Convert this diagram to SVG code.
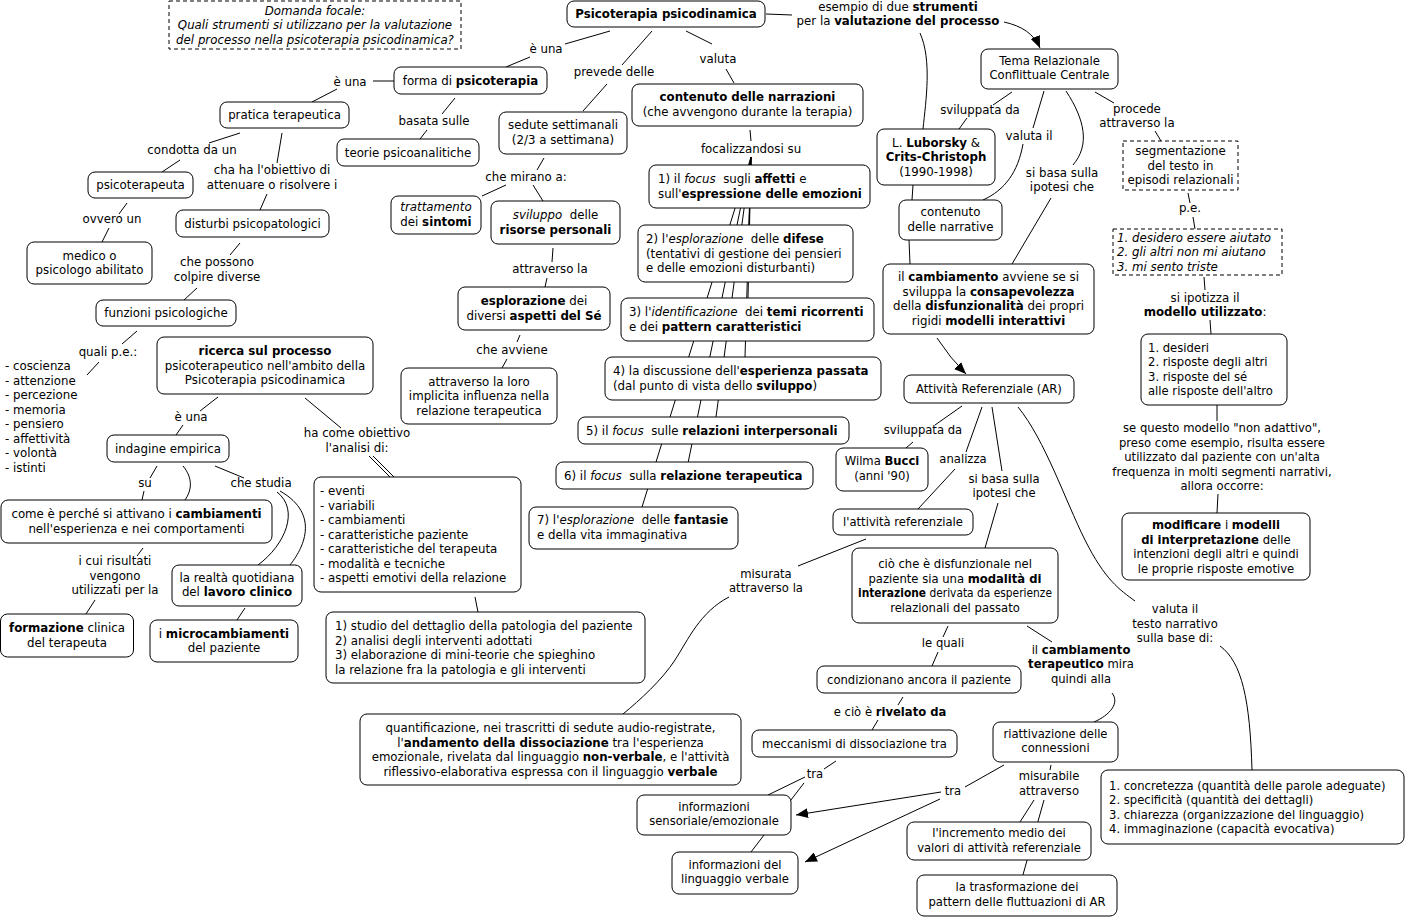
<svg xmlns="http://www.w3.org/2000/svg" width="1410" height="924" viewBox="0 0 1410 924">
<style>
text{font-family:"DejaVu Sans",Verdana,sans-serif;font-size:11.8px;fill:#000}
.t{font-size:11.6px}
.c{text-anchor:middle}
.b{font-weight:bold}
.i{font-style:italic}
.p{white-space:pre}
.n{fill:#fff;stroke:#000;stroke-width:1}
.d{fill:#fff;stroke:#000;stroke-width:1;stroke-dasharray:4,3}
.l{fill:none;stroke:#000;stroke-width:1}
</style>
<defs>
<marker id="ah" markerWidth="12" markerHeight="10" refX="12" refY="5" orient="auto" markerUnits="userSpaceOnUse"><path d="M0,0 L12,5 L0,10 z" fill="#000"/></marker>
</defs>
<rect width="1410" height="924" fill="#fff"/>

<g id="connectors">
<path class="l" d="M610 31 L565 44 M530 57 L506 67 M652 31 L622 65 M607 84 L583 111 M686 31 L712 44 M726 69 L734 83 M766 14 L792 15"/>
<path class="l" d="M1004 22 C1022 26 1034 34 1040 48" marker-end="url(#ah)"/>
<path class="l" d="M920 33 C932 60 926 100 923 129"/>
<path class="l" d="M312 102 L337 89 M373 81 L394 81 M455 98 L442 114 M427 130 L420 139 M240 133 L209 143 M180 160 L162 172 M282 133 L277 163 M267 194 L260 210 M127 203 L119 214 M109 228 L102 242 M240 243 L230 255 M197 288 L184 300 M137 331 L122 344 M99 362 L87 375"/>
<path class="l" d="M218 397 L200 411 M183 425 L176 435 M305 398 L341 428 M369 456 L390 477 M373 456 L394 477 M157 466 L150 478 M144 491 L142 500 M215 466 L244 478 M143 548 L137 556 M95 600 L86 614 M245 608 L237 620 M475 597 L478 612"/>
<path class="l" d="M183 466 C193 478 192 490 185 500"/>
<path class="l" d="M277 492 C300 510 285 545 258 565"/>
<path class="l" d="M280 491 C322 515 302 550 290 565"/>
<path class="l" d="M544 158 L537 170 M506 185 L482 196 M533 185 L543 201 M553 248 L552 262 M547 278 L545 287 M520 335 L517 342 M507 359 L502 368 M750 130 L751 141"/>
<path class="l" d="M751 157 L751 165 M751 157 L749 225 M751 157 L748 298 M751 157 L745 357 M751 157 L716 417 M751 157 L688 463 M751 157 L642 507"/>
<path class="l" d="M1012 92 L993 105 M967 118 L959 129 M1044 91 L1033 128 M1095 92 L1114 103 M1155 131 L1161 141 M913 185 L912 200 M909 240 L910 264 M1051 198 L1012 264 M1188 193 L1190 203 M1193 217 L1195 229 M1204 277 L1205 290 M1210 320 L1211 334 M1217 405 L1217 421 M1218 494 L1217 513"/>
<path class="l" d="M1023 144 C1018 172 1005 190 983 200"/>
<path class="l" d="M1066 91 C1085 120 1090 145 1073 165"/>
<path class="l" d="M937 338 Q950 358 966 374" marker-end="url(#ah)"/>
<path class="l" d="M962 406 L935 425 M913 442 L906 448 M982 407 L966 452 M955 469 L918 509 M992 407 L1002 471 M998 503 L985 548 M866 539 L798 566"/>
<path class="l" d="M1018 407 C1045 440 1065 500 1085 540 S1120 590 1135 601"/>
<path class="l" d="M1220 646 C1242 662 1250 700 1252 770"/>
<path class="l" d="M729 597 C700 612 688 640 675 660 S640 700 623 714"/>
<path class="l" d="M948 626 L943 637 M938 652 L932 666 M1027 626 L1052 642 M903 697 L898 705 M878 720 L872 730 M836 761 L824 769 M805 777 L768 795 M804 783 L751 852 M1004 765 L965 787 M1051 765 L1050 770 M1034 800 L1020 822 M1044 800 L1017 896"/>
<path class="l" d="M1112 693 C1120 703 1110 715 1094 722"/>
<path class="l" d="M941 792 L796 815" marker-end="url(#ah)"/>
<path class="l" d="M940 799 L805 862" marker-end="url(#ah)"/>
</g>

<g id="labels">
<text class="c" x="546" y="53">è una</text>
<text class="c" x="614" y="76">prevede delle</text>
<text class="c" x="718" y="63">valuta</text>
<text class="c" x="898" y="11">esempio di due <tspan class="b">strumenti</tspan></text>
<text class="c" x="898" y="25">per la <tspan class="b">valutazione del processo</tspan></text>
<text class="c" x="350" y="86">è una</text>
<text class="c" x="434" y="125">basata sulle</text>
<text class="c" x="192" y="154">condotta da un</text>
<text class="c" x="272" y="174">cha ha l'obiettivo di</text>
<text class="c" x="272" y="189">attenuare o risolvere i</text>
<text class="c" x="112" y="223">ovvero un</text>
<text class="c" x="217" y="266">che possono</text>
<text class="c" x="217" y="281">colpire diverse</text>
<text class="c" x="108" y="356">quali p.e.:</text>
<text x="5" y="370">- coscienza</text>
<text x="5" y="385">- attenzione</text>
<text x="5" y="399">- percezione</text>
<text x="5" y="414">- memoria</text>
<text x="5" y="428">- pensiero</text>
<text x="5" y="443">- affettività</text>
<text x="5" y="457">- volontà</text>
<text x="5" y="472">- istinti</text>
<text class="c" x="191" y="421">è una</text>
<text class="c" x="357" y="437">ha come obiettivo</text>
<text class="c" x="357" y="452">l'analisi di:</text>
<text class="c" x="145" y="487">su</text>
<text class="c" x="261" y="487">che studia</text>
<text class="c" x="115" y="565">i cui risultati</text>
<text class="c" x="115" y="580">vengono</text>
<text class="c" x="115" y="594">utilizzati per la</text>
<text class="c" x="526" y="181">che mirano a:</text>
<text class="c" x="550" y="273">attraverso la</text>
<text class="c" x="512" y="354">che avviene</text>
<text class="c" x="751" y="153">focalizzandosi su</text>
<text class="c" x="980" y="114">sviluppata da</text>
<text class="c" x="1029" y="140">valuta il</text>
<text class="c" x="1062" y="177">si basa sulla</text>
<text class="c" x="1062" y="191">ipotesi che</text>
<text class="c" x="1137" y="113">procede</text>
<text class="c" x="1137" y="127">attraverso la</text>
<text class="c" x="1190" y="212">p.e.</text>
<text class="c" x="1205" y="302">si ipotizza il</text>
<text class="c" x="1205" y="316"><tspan class="b">modello utilizzato</tspan>:</text>
<text class="c t" x="1222" y="432">se questo modello "non adattivo",</text>
<text class="c t" x="1222" y="447">preso come esempio, risulta essere</text>
<text class="c t" x="1222" y="461">utilizzato dal paziente con un'alta</text>
<text class="c t" x="1222" y="476">frequenza in molti segmenti narrativi,</text>
<text class="c t" x="1222" y="490">allora occorre:</text>
<text class="c t" x="923" y="434">sviluppata da</text>
<text class="c t" x="963" y="463">analizza</text>
<text class="c t" x="1004" y="483">si basa sulla</text>
<text class="c t" x="1004" y="497">ipotesi che</text>
<text class="c t" x="766" y="578">misurata</text>
<text class="c t" x="766" y="592">attraverso la</text>
<text class="c t" x="1175" y="613">valuta il</text>
<text class="c t" x="1175" y="628">testo narrativo</text>
<text class="c t" x="1175" y="642">sulla base di:</text>
<text class="c t" x="943" y="647">le quali</text>
<text class="c t" x="1081" y="654">il <tspan class="b">cambiamento</tspan></text>
<text class="c t" x="1081" y="668"><tspan class="b">terapeutico</tspan> mira</text>
<text class="c t" x="1081" y="683">quindi alla</text>
<text class="c t" x="890" y="716">e ciò è <tspan class="b">rivelato da</tspan></text>
<text class="c t" x="815" y="778">tra</text>
<text class="c t" x="953" y="795">tra</text>
<text class="c t" x="1049" y="780">misurabile</text>
<text class="c t" x="1049" y="795">attraverso</text>
</g>

<g id="n-domanda"><rect class="d" x="169" y="1" width="292" height="48"/>
<text class="c i" x="315" y="15">Domanda focale:</text>
<text class="c i" x="315" y="29">Quali strumenti si utilizzano per la valutazione</text>
<text class="c i" x="315" y="44">del processo nella psicoterapia psicodinamica?</text></g>

<g id="n-psicodinamica"><rect class="n" x="567" y="1" width="198" height="26" rx="7"/>
<text class="c b" x="666" y="18">Psicoterapia psicodinamica</text></g>

<g id="n-tema"><rect class="n" x="981" y="49" width="137" height="40" rx="7"/>
<text class="c t" x="1049.5" y="65">Tema Relazionale</text>
<text class="c t" x="1049.5" y="79">Conflittuale Centrale</text></g>

<g id="n-forma"><rect class="n" x="394" y="67" width="153" height="27" rx="7"/>
<text class="c" x="470.5" y="85">forma di <tspan class="b">psicoterapia</tspan></text></g>

<g id="n-pratica"><rect class="n" x="220" y="102" width="129" height="26" rx="7"/>
<text class="c" x="284.5" y="119">pratica terapeutica</text></g>

<g id="n-contenuto"><rect class="n" x="632" y="84" width="231" height="42" rx="7"/>
<text class="c b" x="747.5" y="101">contenuto delle narrazioni</text>
<text class="c" x="747.5" y="116">(che avvengono durante la terapia)</text></g>

<g id="n-sedute"><rect class="n" x="499" y="112" width="128" height="42" rx="7"/>
<text class="c" x="563" y="129">sedute settimanali</text>
<text class="c" x="563" y="144">(2/3 a settimana)</text></g>

<g id="n-teorie"><rect class="n" x="337" y="139" width="142" height="27" rx="7"/>
<text class="c" x="408" y="157">teorie psicoanalitiche</text></g>

<g id="n-luborsky"><rect class="n" x="877" y="129" width="118" height="56" rx="7"/>
<text class="c" x="936" y="147">L. <tspan class="b">Luborsky</tspan> &amp;</text>
<text class="c b" x="936" y="161">Crits-Christoph</text>
<text class="c" x="936" y="176">(1990-1998)</text></g>

<g id="n-segmentazione"><rect class="d" x="1123" y="141" width="115" height="49"/>
<text class="c" x="1180.5" y="155">segmentazione</text>
<text class="c" x="1180.5" y="170">del testo in</text>
<text class="c" x="1180.5" y="184">episodi relazionali</text></g>

<g id="n-psicoterapeuta"><rect class="n" x="88" y="172" width="105" height="26" rx="7"/>
<text class="c" x="140.5" y="189">psicoterapeuta</text></g>

<g id="n-f1"><rect class="n" x="649" y="165" width="221" height="43" rx="7"/>
<text class="p" x="658" y="183">1) il <tspan class="i">focus</tspan>  sugli <tspan class="b">affetti</tspan> e</text>
<text x="658" y="198">sull'<tspan class="b">espressione delle emozioni</tspan></text></g>

<g id="n-trattamento"><rect class="n" x="391" y="196" width="90" height="38" rx="7"/>
<text class="c i" x="436" y="211">trattamento</text>
<text class="c" x="436" y="226">dei <tspan class="b">sintomi</tspan></text></g>

<g id="n-narrative"><rect class="n" x="899" y="200" width="103" height="40" rx="7"/>
<text class="c" x="950.5" y="216">contenuto</text>
<text class="c" x="950.5" y="231">delle narrative</text></g>

<g id="n-sviluppo"><rect class="n" x="491" y="201" width="129" height="43" rx="7"/>
<text class="c p" x="555.5" y="219"><tspan class="i">sviluppo</tspan>  delle</text>
<text class="c b" x="555.5" y="234">risorse personali</text></g>

<g id="n-disturbi"><rect class="n" x="176" y="210" width="153" height="27" rx="7"/>
<text class="c" x="252.5" y="228">disturbi psicopatologici</text></g>

<g id="n-desidero"><rect class="d" x="1113" y="229" width="169" height="46"/>
<text class="i" x="1117" y="242">1. desidero essere aiutato</text>
<text class="i" x="1117" y="256">2. gli altri non mi aiutano</text>
<text class="i" x="1117" y="271">3. mi sento triste</text></g>

<g id="n-f2"><rect class="n" x="638" y="225" width="215" height="57" rx="7"/>
<text class="p" x="646" y="243">2) l'<tspan class="i">esplorazione</tspan>  delle <tspan class="b">difese</tspan></text>
<text x="646" y="258">(tentativi di gestione dei pensieri</text>
<text x="646" y="272">e delle emozioni disturbanti)</text></g>

<g id="n-medico"><rect class="n" x="27" y="242" width="125" height="42" rx="7"/>
<text class="c" x="89.5" y="260">medico o</text>
<text class="c" x="89.5" y="274">psicologo abilitato</text></g>

<g id="n-cambiamento"><rect class="n" x="883" y="264" width="211" height="70" rx="7"/>
<text class="c" x="988.5" y="281">il <tspan class="b">cambiamento</tspan> avviene se si</text>
<text class="c" x="988.5" y="296">sviluppa la <tspan class="b">consapevolezza</tspan></text>
<text class="c" x="988.5" y="310">della <tspan class="b">disfunzionalità</tspan> dei propri</text>
<text class="c" x="988.5" y="325">rigidi <tspan class="b">modelli interattivi</tspan></text></g>

<g id="n-esplorazione"><rect class="n" x="458" y="287" width="152" height="43" rx="7"/>
<text class="c" x="534" y="305"><tspan class="b">esplorazione</tspan> dei</text>
<text class="c" x="534" y="320">diversi <tspan class="b">aspetti del Sé</tspan></text></g>

<g id="n-f3"><rect class="n" x="621" y="298" width="253" height="43" rx="7"/>
<text class="p" x="629" y="316">3) l'<tspan class="i">identificazione</tspan>  dei <tspan class="b">temi ricorrenti</tspan></text>
<text x="629" y="331">e dei <tspan class="b">pattern caratteristici</tspan></text></g>

<g id="n-funzioni"><rect class="n" x="96" y="300" width="140" height="26" rx="7"/>
<text class="c" x="166" y="317">funzioni psicologiche</text></g>

<g id="n-desideri"><rect class="n" x="1141" y="334" width="146" height="71" rx="7"/>
<text class="t" x="1148" y="352">1. desideri</text>
<text class="t" x="1148" y="366">2. risposte degli altri</text>
<text class="t" x="1148" y="381">3. risposte del sé</text>
<text class="t" x="1148" y="395">alle risposte dell'altro</text></g>

<g id="n-ricerca"><rect class="n" x="157" y="337" width="216" height="57" rx="7"/>
<text class="c b" x="265" y="355">ricerca sul processo</text>
<text class="c" x="265" y="370">psicoterapeutico nell'ambito della</text>
<text class="c" x="265" y="384">Psicoterapia psicodinamica</text></g>

<g id="n-f4"><rect class="n" x="605" y="357" width="276" height="43" rx="7"/>
<text x="613" y="375">4) la discussione dell'<tspan class="b">esperienza passata</tspan></text>
<text x="613" y="390">(dal punto di vista dello <tspan class="b">sviluppo</tspan>)</text></g>

<g id="n-influenza"><rect class="n" x="401" y="368" width="156" height="56" rx="7"/>
<text class="c" x="479" y="386">attraverso la loro</text>
<text class="c" x="479" y="400">implicita influenza nella</text>
<text class="c" x="479" y="415">relazione terapeutica</text></g>

<g id="n-ar"><rect class="n" x="904" y="375" width="170" height="28" rx="7"/>
<text class="c t" x="989" y="393">Attività Referenziale (AR)</text></g>

<g id="n-f5"><rect class="n" x="578" y="417" width="271" height="27" rx="7"/>
<text class="p" x="586" y="435">5) il <tspan class="i">focus</tspan>  sulle <tspan class="b">relazioni interpersonali</tspan></text></g>

<g id="n-indagine"><rect class="n" x="107" y="435" width="122" height="27" rx="7"/>
<text class="c" x="168" y="453">indagine empirica</text></g>

<g id="n-wilma"><rect class="n" x="836" y="448" width="92" height="43" rx="7"/>
<text class="c t" x="882" y="465">Wilma <tspan class="b">Bucci</tspan></text>
<text class="c t" x="882" y="480">(anni '90)</text></g>

<g id="n-f6"><rect class="n" x="556" y="462" width="257" height="27" rx="7"/>
<text class="p" x="564" y="480">6) il <tspan class="i">focus</tspan>  sulla <tspan class="b">relazione terapeutica</tspan></text></g>

<g id="n-eventi"><rect class="n" x="314" y="477" width="207" height="115" rx="7"/>
<text x="320" y="495">- eventi</text>
<text x="320" y="510">- variabili</text>
<text x="320" y="524">- cambiamenti</text>
<text x="320" y="539">- caratteristiche paziente</text>
<text x="320" y="553">- caratteristiche del terapeuta</text>
<text x="320" y="568">- modalità e tecniche</text>
<text x="320" y="582">- aspetti emotivi della relazione</text></g>

<g id="n-come"><rect class="n" x="1" y="500" width="271" height="43" rx="7"/>
<text class="c" x="136.5" y="518">come è perché si attivano i <tspan class="b">cambiamenti</tspan></text>
<text class="c" x="136.5" y="533">nell'esperienza e nei comportamenti</text></g>

<g id="n-attivita"><rect class="n" x="833" y="509" width="140" height="26" rx="7"/>
<text class="c t" x="903" y="526">l'attività referenziale</text></g>

<g id="n-modificare"><rect class="n" x="1122" y="513" width="188" height="67" rx="7"/>
<text class="c t" x="1216" y="529"><tspan class="b">modificare</tspan> i <tspan class="b">modelli</tspan></text>
<text class="c t" x="1216" y="544"><tspan class="b">di interpretazione</tspan> delle</text>
<text class="c t" x="1216" y="558">intenzioni degli altri e quindi</text>
<text class="c t" x="1216" y="573">le proprie risposte emotive</text></g>

<g id="n-f7"><rect class="n" x="529" y="507" width="209" height="42" rx="7"/>
<text class="p" x="537" y="524">7) l'<tspan class="i">esplorazione</tspan>  delle <tspan class="b">fantasie</tspan></text>
<text x="537" y="539">e della vita immaginativa</text></g>

<g id="n-cio"><rect class="n" x="852" y="548" width="206" height="75" rx="7"/>
<text class="c t" x="955" y="568">ciò che è disfunzionale nel</text>
<text class="c t" x="955" y="583">paziente sia una <tspan class="b">modalità di</tspan></text>
<text class="c t" x="955" y="597" textLength="194" lengthAdjust="spacingAndGlyphs"><tspan class="b">interazione</tspan> derivata da esperienze</text>
<text class="c t" x="955" y="612">relazionali del passato</text></g>

<g id="n-realta"><rect class="n" x="172" y="565" width="130" height="41" rx="7"/>
<text class="c" x="237" y="582">la realtà quotidiana</text>
<text class="c" x="237" y="596">del <tspan class="b">lavoro clinico</tspan></text></g>

<g id="n-formazione"><rect class="n" x="0.5" y="614" width="133" height="43" rx="7"/>
<text class="c" x="67" y="632"><tspan class="b">formazione</tspan> clinica</text>
<text class="c" x="67" y="647">del terapeuta</text></g>

<g id="n-micro"><rect class="n" x="150" y="620" width="148" height="42" rx="7"/>
<text class="c" x="224" y="638">i <tspan class="b">microcambiamenti</tspan></text>
<text class="c" x="224" y="652">del paziente</text></g>

<g id="n-studio"><rect class="n" x="326" y="612" width="319" height="71" rx="7"/>
<text x="335" y="630">1) studio del dettaglio della patologia del paziente</text>
<text x="335" y="645">2) analisi degli interventi adottati</text>
<text x="335" y="659">3) elaborazione di mini-teorie che spieghino</text>
<text x="335" y="674">la relazione fra la patologia e gli interventi</text></g>

<g id="n-condizionano"><rect class="n" x="817" y="666" width="204" height="27" rx="7"/>
<text class="c t" x="919" y="684">condizionano ancora il paziente</text></g>

<g id="n-quantificazione"><rect class="n" x="360" y="714" width="381" height="71" rx="7"/>
<text class="c" x="550.5" y="732">quantificazione, nei trascritti di sedute audio-registrate,</text>
<text class="c" x="550.5" y="747">l'<tspan class="b">andamento della dissociazione</tspan> tra l'esperienza</text>
<text class="c" x="550.5" y="761">emozionale, rivelata dal linguaggio <tspan class="b">non-verbale</tspan>, e l'attività</text>
<text class="c" x="550.5" y="776">riflessivo-elaborativa espressa con il linguaggio <tspan class="b">verbale</tspan></text></g>

<g id="n-riattivazione"><rect class="n" x="993" y="722" width="125" height="40" rx="7"/>
<text class="c t" x="1055.5" y="738">riattivazione delle</text>
<text class="c t" x="1055.5" y="752">connessioni</text></g>

<g id="n-meccanismi"><rect class="n" x="752" y="730" width="205" height="27" rx="7"/>
<text class="c t" x="854.5" y="748">meccanismi di dissociazione tra</text></g>

<g id="n-concretezza"><rect class="n" x="1101" y="770" width="303" height="74" rx="7"/>
<text class="t" x="1109" y="790">1. concretezza (quantità delle parole adeguate)</text>
<text class="t" x="1109" y="804">2. specificità (quantità dei dettagli)</text>
<text class="t" x="1109" y="819">3. chiarezza (organizzazione del linguaggio)</text>
<text class="t" x="1109" y="833">4. immaginazione (capacità evocativa)</text></g>

<g id="n-sensoriale"><rect class="n" x="637" y="795" width="154" height="40" rx="7"/>
<text class="c t" x="714" y="811">informazioni</text>
<text class="c t" x="714" y="825">sensoriale/emozionale</text></g>

<g id="n-incremento"><rect class="n" x="907" y="822" width="184" height="38" rx="7"/>
<text class="c t" x="999" y="837">l'incremento medio dei</text>
<text class="c t" x="999" y="852">valori di attività referenziale</text></g>

<g id="n-verbale"><rect class="n" x="672" y="852" width="126" height="42" rx="7"/>
<text class="c t" x="735" y="869">informazioni del</text>
<text class="c t" x="735" y="883">linguaggio verbale</text></g>

<g id="n-trasformazione"><rect class="n" x="917" y="875" width="200" height="41" rx="7"/>
<text class="c t" x="1017" y="891">la trasformazione dei</text>
<text class="c t" x="1017" y="906">pattern delle fluttuazioni di AR</text></g>
</svg>
